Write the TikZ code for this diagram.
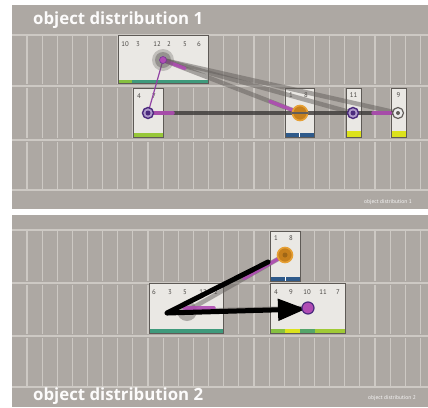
\documentclass[tikz,border=0pt]{standalone}
\usepackage{fontspec}
\setmainfont{PT Sans}
\newfontfamily\titlefont{Open Sans}
\usetikzlibrary{arrows.meta,calc}
\definecolor{pgray}{HTML}{ADA8A3}
\definecolor{gline}{HTML}{CDC9C4}
\definecolor{boxfill}{HTML}{EAE8E4}
\definecolor{boxline}{HTML}{5E5A56}
\definecolor{numc}{HTML}{4A4744}
\definecolor{mag}{HTML}{B04CB4}
\definecolor{purp}{HTML}{4B2A7E}
\definecolor{purpl}{HTML}{7A56A8}
\definecolor{orng}{HTML}{E6A035}
\definecolor{orngd}{HTML}{C7801C}
\definecolor{teal}{HTML}{3F9A7C}
\definecolor{lgreen}{HTML}{86C040}
\definecolor{yell}{HTML}{DCE21C}
\definecolor{bluebar}{HTML}{2F5A8A}
\definecolor{linkgray}{HTML}{625E5B}
\tikzset{
  objbox/.style={draw=boxline, fill=boxfill, line width=0.9pt, inner sep=0pt},
  num/.style={font=\fontsize{6.8}{7}\selectfont, text=numc, inner sep=0pt},
  gl/.style={draw=gline, line width=1.1pt},
  hl/.style={draw=gline, line width=1.4pt},
  bigtitle/.style={font=\titlefont\fontsize{16.8}{18}\selectfont\bfseries, text=white!96!pgray, inner sep=0pt, anchor=west},
  smalltitle/.style={font=\fontsize{5.5}{6}\selectfont, text=white!90!pgray, inner sep=0pt, anchor=east},
  graylink/.style={draw=linkgray, line width=4.5pt, opacity=0.5},
  maglink/.style={draw=mag, line width=3.5pt, line cap=round, opacity=0.9},
  darklink/.style={draw=linkgray!60!black, line width=3.2pt, opacity=0.8},
  hubpurple/.style={circle, draw=purp, line width=1.4pt, fill=purpl!60!white, minimum size=11pt, inner sep=0pt},
  huborange/.style={circle, draw=orng, line width=1.6pt, fill=orngd, minimum size=15pt, inner sep=0pt},
  hubwhite/.style={circle, draw=linkgray, line width=1.2pt, fill=white!85!gray, minimum size=11pt, inner sep=0pt},
  hubgray/.style={circle, fill=linkgray, opacity=0.45, minimum size=20pt, inner sep=0pt},
  blackarrow/.style={draw=black, line width=5pt, line cap=round},
}
\begin{document}
\begin{tikzpicture}[x=1pt,y=-1pt]
\useasboundingbox (0,0) rectangle (428,407);
\fill[white] (0,0) rectangle (428,407);

% ================= panel 1 =================
\fill[pgray] (12,5) rectangle (428,209);
\foreach \t/\b in {36/84,88/138,142/189}{
  \foreach \x in {27,42.13,...,425}{\draw[gl] (\x,\t) -- (\x,\b);}
}
\foreach \y in {35,86,140,190}{\draw[hl] (12,\y) -- (428,\y);}
\node[bigtitle] (t1) at (33,20) {object distribution 1};
\node[smalltitle] (s1) at (412,202) {object distribution 1};

% boxes
\node[objbox, minimum width=90pt, minimum height=48pt] (A) at (163,59) {};
\node[objbox, minimum width=30pt, minimum height=49pt] (B) at (148,112.5) {};
\node[objbox, minimum width=29pt, minimum height=49pt] (C) at (299.5,112.5) {};
\node[objbox, minimum width=15pt, minimum height=49pt] (D) at (353.5,112.5) {};
\node[objbox, minimum width=15pt, minimum height=49pt] (E) at (398.5,112.5) {};

% bars
\fill[lgreen] (118.5,79.5) rectangle (132,83);
\fill[teal] (132,79.5) rectangle (207.5,83);
\fill[lgreen!80!yell] (133.5,133) rectangle (162.5,136.5);
\fill[bluebar] (285.5,133) rectangle (313.5,136.5);
\draw[white, line width=0.6pt] (299.5,133) -- (299.5,136.5);
\fill[yell] (346.5,131) rectangle (360.5,136.5);
\fill[yell] (391.5,131) rectangle (405.5,136.5);

% numbers
\node[num] (a1) at (125,44) {10};
\node[num] (a2) at (138,44) {3};
\node[num] (a3) at (157,44) {12};
\node[num] (a4) at (169,44) {2};
\node[num] (a5) at (185,44) {5};
\node[num] (a6) at (199,44) {6};
\node[num] (b1) at (139,96) {4};
\node[num] (b2) at (154,96) {7};
\node[num] (c1) at (291,95) {1};
\node[num] (c2) at (306,95) {8};
\node[num] (d1) at (353.5,95) {11};
\node[num] (e1) at (398.5,95) {9};

% hubs (coordinates first)
\coordinate (hA) at (163,60);
\coordinate (hB) at (148,113);
\coordinate (hC) at (300,113);
\coordinate (hD) at (353,113);
\coordinate (hE) at (398,113);

% links
\draw[graylink] (hA) -- (hE);
\draw[graylink] (hA) -- (hD);
\draw[graylink] (hA) -- (hC);
\draw[darklink] (hB) -- (hE);
\draw[maglink] (hA) -- ($(hA)!0.16!(hC)$);
\draw[maglink] ($(hA)!0.78!(hC)$) -- ($(hA)!0.95!(hC)$);
\draw[maglink] ($(hB)!0.02!(hE)$) -- ($(hB)!0.1!(hE)$);
\draw[maglink] ($(hB)!0.9!(hE)$) -- ($(hB)!0.97!(hE)$);
\draw[draw=mag!70!purp, line width=1.2pt] (hA) -- (hB);

% hub symbols
\node[hubgray, minimum size=22pt, opacity=0.3] (gA0) at (hA) {};
\node[hubgray, minimum size=16pt] (gA) at (hA) {};
\node[circle, fill=mag, draw=purp!60!mag, line width=0.6pt, minimum size=7pt, inner sep=0pt] (mA) at (hA) {};
\node[hubpurple] (nB) at (hB) {};
\node[circle, fill=purp, minimum size=5pt, inner sep=0pt] (nB2) at (hB) {};
\node[huborange] (nC) at (hC) {};
\draw[linkgray, line width=1.4pt] (nC.west) -- (nC.east);
\node[hubpurple] (nD) at (hD) {};
\node[circle, fill=purp, minimum size=5pt, inner sep=0pt] (nD2) at (hD) {};
\node[hubwhite] (nE) at (hE) {};
\node[circle, fill=linkgray, minimum size=4pt, inner sep=0pt] (nE2) at (hE) {};

% ================= panel 2 =================
\fill[pgray] (12,215) rectangle (428,407);
\foreach \t/\b in {231/281,285/334,338/386}{
  \foreach \x in {27,42.13,...,425}{\draw[gl] (\x,\t) -- (\x,\b);}
}
\foreach \y in {230,283,336,387}{\draw[hl] (12,\y) -- (428,\y);}
\node[bigtitle] (t2) at (33,396) {object distribution 2};
\node[smalltitle] (s2) at (416,398) {object distribution 2};

\node[objbox, minimum width=30pt, minimum height=50pt] (P) at (285,256) {};
\node[objbox, minimum width=74pt, minimum height=50pt] (L) at (186,308) {};
\node[objbox, minimum width=75pt, minimum height=50pt] (R) at (307.5,308) {};

% bars
\fill[bluebar] (270.5,277) rectangle (299.5,280.5);
\draw[white, line width=0.6pt] (285,277) -- (285,280.5);
\fill[teal] (149.5,329) rectangle (222.5,332.5);
\fill[lgreen] (270.5,329) rectangle (285,332.5);
\fill[yell] (285,329) rectangle (300,332.5);
\fill[teal!70!lgreen] (300,329) rectangle (315,332.5);
\fill[lgreen!70!yell] (315,329) rectangle (344.5,332.5);

% numbers
\node[num] (p1) at (276,238) {1};
\node[num] (p2) at (291,238) {8};
\node[num] (l1) at (154,292) {6};
\node[num] (l2) at (170,292) {3};
\node[num] (l3) at (185,292) {5};
\node[num] (l4) at (203,292) {12};
\node[num] (l5) at (216,292) {2};
\node[num] (r1) at (276,292) {4};
\node[num] (r2) at (291,292) {9};
\node[num] (r3) at (307,292) {10};
\node[num] (r4) at (323,292) {11};
\node[num] (r5) at (338,292) {7};

\coordinate (hP) at (285,255);
\coordinate (hR) at (308,308);
\coordinate (hL) at (187,311);
\coordinate (st) at (167,313);
\coordinate (dend) at (268,262);

\node[hubgray] (gL) at (hL) {};
\draw[graylink] (hL) -- (hP);
\draw[graylink] (hL) -- (hR);
\draw[maglink] (184,308) -- (214,308);
\draw[maglink] ($(hP)!0.42!(hL)$) -- (hP);
\node[huborange] (nP) at (hP) {};
\node[circle, fill=orngd!80!black, minimum size=5pt, inner sep=0pt] (nP2) at (hP) {};

\draw[blackarrow] (st) -- (dend);
\draw[blackarrow, line cap=butt, -{Triangle[length=28pt,width=21pt]}] (st) -- (306,309);
\node[circle, fill=mag, draw=purp, line width=1.2pt, minimum size=12pt, inner sep=0pt] (nR) at (hR) {};
\end{tikzpicture}
\end{document}
